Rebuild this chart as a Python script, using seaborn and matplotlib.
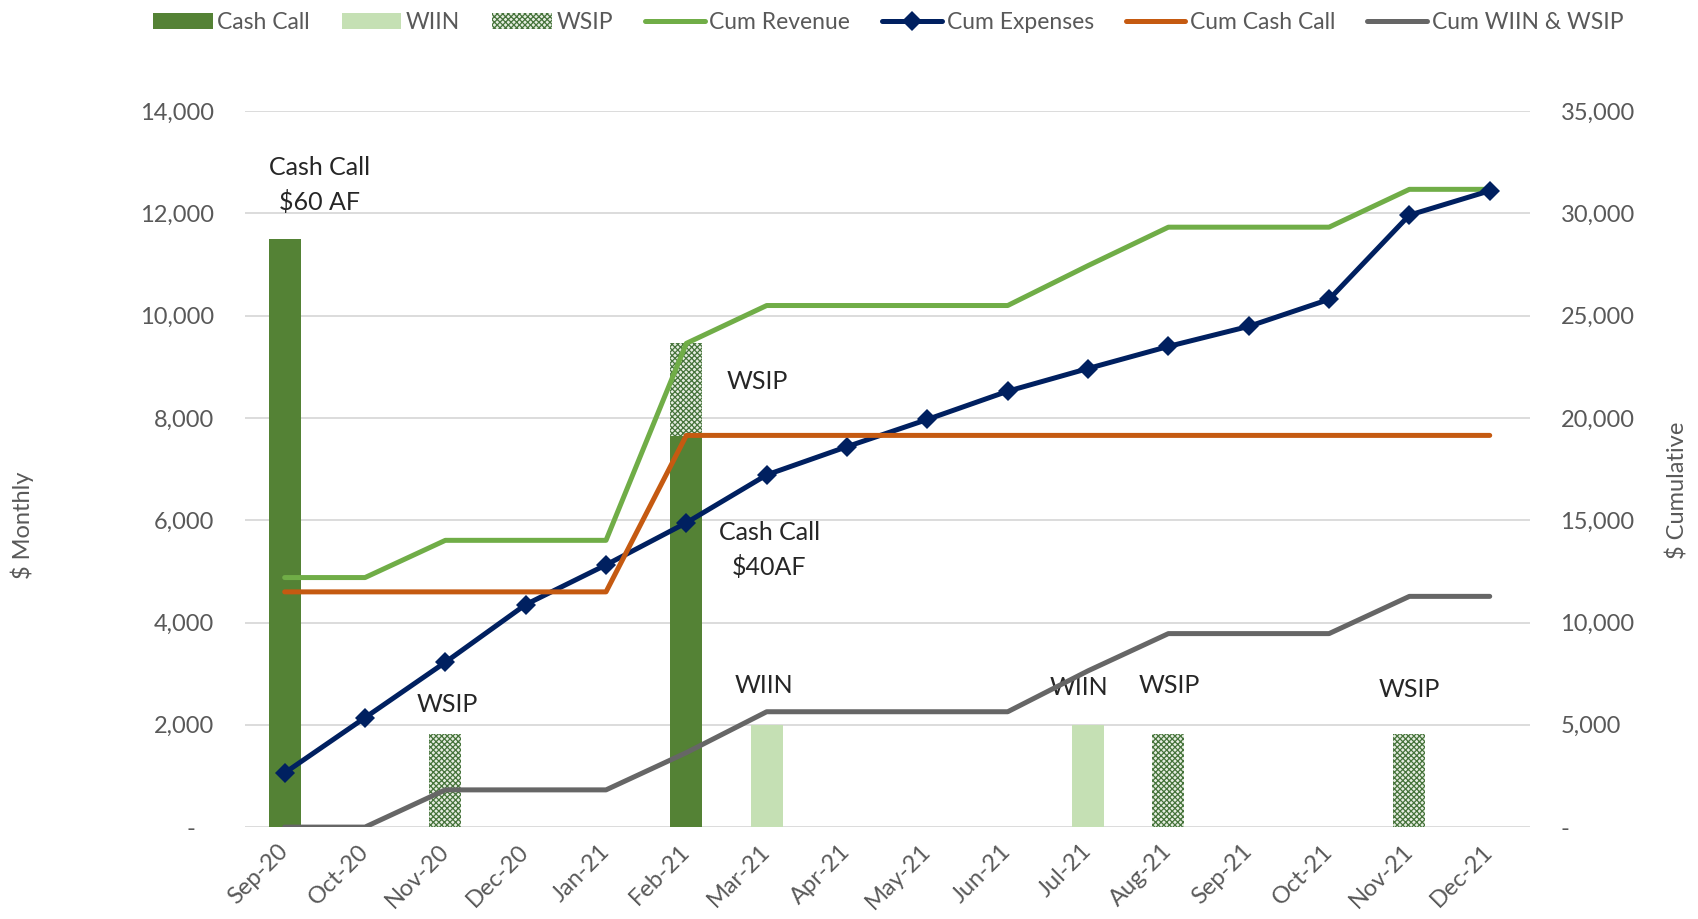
import matplotlib
import numpy as np
import seaborn as sns
from matplotlib import pyplot as plt
from matplotlib.ticker import FuncFormatter, MultipleLocator

matplotlib.use("Agg")

months = ["Sep-20", "Oct-20", "Nov-20", "Dec-20", "Jan-21", "Feb-21", "Mar-21", "Apr-21",
          "May-21", "Jun-21", "Jul-21", "Aug-21", "Sep-21", "Oct-21", "Nov-21", "Dec-21"]

# monthly amounts (left axis)
cash_call = [11500, 0, 0, 0, 0, 7650, 0, 0, 0, 0, 0, 0, 0, 0, 0, 0]
wiin = [0, 0, 0, 0, 0, 0, 2000, 0, 0, 0, 2000, 0, 0, 0, 0, 0]
wsip = [0, 0, 1820, 0, 0, 1820, 0, 0, 0, 0, 0, 1820, 0, 0, 1820, 0]

# cumulative amounts (right axis)
cum_revenue = [12200, 12200, 14020, 14020, 14020, 23650, 25500, 25500,
               25500, 25500, 27450, 29330, 29330, 29330, 31180, 31180]
cum_expenses = [2650, 5350, 8060, 10880, 12820, 14880, 17220, 18600,
                19930, 21310, 22420, 23500, 24480, 25800, 29920, 31110]
cum_cash_call = [11500, 11500, 11500, 11500, 11500, 19150, 19150, 19150,
                 19150, 19150, 19150, 19150, 19150, 19150, 19150, 19150]
cum_wiin_wsip = [0, 0, 1820, 1820, 1820, 3640, 5640, 5640,
                 5640, 5640, 7640, 9460, 9460, 9460, 11280, 11280]

note_texts = ["Cash Call\n$60 AF", "WSIP", "Cash Call\n$40AF", "WSIP", "WIIN", "WIIN", "WSIP", "WSIP"]


def fmt_left(v, _):
    return "-   " if v == 0 else f"{v:,.0f}"


def fmt_right(v, _):
    return "-" if v == 0 else f"{v:,.0f}"


def main():
    sns.set_theme(style="white")
    plt.rcParams["font.family"] = ["Lato", "DejaVu Sans"]
    plt.rcParams["hatch.linewidth"] = 0.9

    x = np.arange(len(months))
    grey = "#595959"

    fig = plt.figure(figsize=(16.98, 9.19), dpi=100)
    ax1 = fig.add_axes([0.144, 0.100, 0.757, 0.779])
    ax2 = ax1.twinx()

    # bars
    width = 0.4
    b_cc = ax1.bar(x, cash_call, width, color="#548235", lw=0, label="Cash Call", zorder=2)
    b_wiin = ax1.bar(x, wiin, width, color="#c5e0b4", lw=0, label="WIIN", zorder=2)
    b_wsip = ax1.bar(x, wsip, width, bottom=cash_call, facecolor="#e6ede1", edgecolor="#45733a",
                     hatch="xxxxxx", lw=0, label="WSIP", zorder=2)

    # cumulative lines
    lw = 3.6
    sns.lineplot(x=x, y=cum_revenue, ax=ax2, color="#70ad47", lw=lw, label="Cum Revenue")
    sns.lineplot(x=x, y=cum_expenses, ax=ax2, color="#002060", lw=lw, marker="D", markersize=10,
                 markeredgewidth=0, label="Cum Expenses")
    sns.lineplot(x=x, y=cum_cash_call, ax=ax2, color="#c55a11", lw=lw, label="Cum Cash Call")
    sns.lineplot(x=x, y=cum_wiin_wsip, ax=ax2, color="#666666", lw=lw, label="Cum WIIN & WSIP")

    ax1.set_xlim(-0.5, len(months) - 0.5)
    ax1.set_ylim(0, 14000)
    ax2.set_ylim(0, 35000)
    ax1.yaxis.set_major_locator(MultipleLocator(2000))
    ax2.yaxis.set_major_locator(MultipleLocator(5000))
    ax1.yaxis.set_major_formatter(FuncFormatter(fmt_left))
    ax2.yaxis.set_major_formatter(FuncFormatter(fmt_right))

    ax1.grid(axis="y", color="#d9d9d9", lw=1.3, zorder=0)
    ax1.set_axisbelow(True)
    for ax in (ax1, ax2):
        for s in ax.spines.values():
            s.set_visible(False)
        ax.tick_params(length=0, labelsize=17, labelcolor=grey)
    ax1.tick_params(axis="y", pad=22)
    ax2.tick_params(axis="y", pad=22)

    ax1.set_xticks(x)
    ax1.set_xticklabels(months, rotation=45, ha="right", rotation_mode="anchor", va="center")
    ax1.tick_params(axis="x", pad=15)

    ax1.set_ylabel("$ Monthly", fontsize=17, color=grey)
    ax1.yaxis.set_label_coords(-0.164, 0.422)
    ax2.set_ylabel("$ Cumulative", fontsize=17, color=grey)
    ax2.yaxis.set_label_coords(1.106, 0.471)

    # notes
    note_pos = [(0.43, 12560), (5.88, 8710), (6.03, 5410), (2.02, 2390),
                (5.96, 2770), (9.89, 2730), (11.01, 2770), (14.0, 2690)]
    for t, (px, py) in zip(note_texts, note_pos):
        ax1.text(px, py, t, ha="center", va="center", fontsize=18, color="#262626",
                 linespacing=1.55, zorder=5)

    ax2.get_legend().remove()
    h2, l2 = ax2.get_legend_handles_labels()
    handles = [b_cc, b_wiin, b_wsip] + h2
    labels = ["Cash Call", "WIIN", "WSIP"] + l2
    fig.legend(handles, labels, loc="center", bbox_to_anchor=(0.523, 0.976), ncol=7,
               frameon=False, fontsize=16.5, handlelength=2.6, handletextpad=0.2,
               columnspacing=1.4, labelcolor=grey)

    fig.savefig("out.png", dpi=100)


if __name__ == "__main__":
    main()
